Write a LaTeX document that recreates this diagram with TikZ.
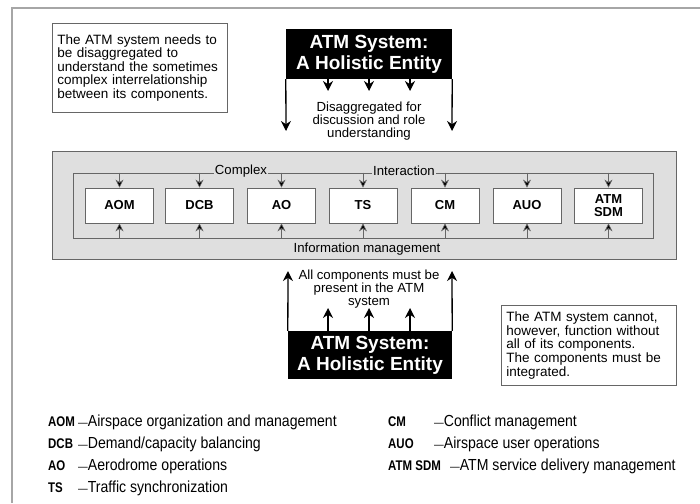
\documentclass[tikz,border=0pt]{standalone}
\usepackage{fontspec}
\setmainfont{Liberation Sans}
\newfontfamily\nfont[FakeStretch=0.88]{Liberation Sans}
\newfontfamily\nbfont[FakeStretch=0.82]{Liberation Sans Bold}
\usetikzlibrary{arrows.meta}
\newcommand{\ldash}{{\fontsize{11}{11}\selectfont—}}
\begin{document}
\begin{tikzpicture}[x=1pt,y=-1pt,
  frameline/.style={draw=black!35, line width=1.5pt},
  note/.style={draw=black!60, line width=0.8pt, fill=white, align=left, anchor=north west,
    inner xsep=5pt, inner ysep=0pt, font=\fontsize{13.5}{13.6}\selectfont},
  holistic/.style={fill=black, text=white, font=\bfseries\fontsize{19}{21}\selectfont,
    align=center, minimum width=166pt, minimum height=50pt, inner sep=0pt},
  bigarrow/.style={line width=1.3pt, -{Stealth[length=10pt,width=10pt]}},
  comp/.style={draw=black!60, line width=0.8pt, fill=white, minimum width=68pt, minimum height=35pt,
    inner sep=0pt, font=\bfseries\fontsize{13}{12.5}\selectfont, align=center},
  smallarrow/.style={line width=0.6pt, draw=black!60, -{Stealth[length=8pt,width=8pt,fill=black]}},
  caption/.style={align=center, inner sep=0pt, font=\fontsize{13.2}{13.3}\selectfont},
  abbr/.style={anchor=west, inner sep=0pt, font=\nbfont\fontsize{14}{16}\selectfont},
  desc/.style={anchor=west, inner sep=0pt, font=\nfont\fontsize{16}{16}\selectfont},
  boxlabel/.style={fill=gray!25, inner xsep=1pt, inner ysep=0pt, font=\fontsize{13.2}{13.3}\selectfont},
]
\useasboundingbox (0,0) rectangle (700,503);
\fill[white] (0,0) rectangle (700,503);
\draw[frameline] (12,503) -- (12,8) -- (700,8);

% top-left note
\node[note, text width=165pt, minimum height=89pt] (note1) at (52,23)
  {The ATM system needs to\\be disaggregated to\\understand the sometimes\\complex interrelationship\\between its components.};

% top holistic entity
\node[holistic] (top) at (369,54) {ATM System:\\A Holistic Entity};
\coordinate (dl) at (286,131);
\coordinate (dr) at (452,131);
\coordinate (d1) at (328,91);
\coordinate (d2) at (369,91);
\coordinate (d3) at (410,91);
\draw[bigarrow] (top.south west) -- (dl);
\draw[bigarrow] (top.south east) -- (dr);
\foreach \c in {d1,d2,d3} \draw[bigarrow] (top.south -| \c) -- (\c);
\node[caption] (disagg) at (369,121) {Disaggregated for\\discussion and role\\understanding};

% gray container
\node[fill=gray!25, draw=black!60, line width=0.8pt, minimum width=624pt, minimum height=108pt, inner sep=0pt] (outer) at (364,205) {};
\node[draw=black!60, line width=0.8pt, minimum width=580pt, minimum height=65pt, inner sep=0pt] (inner) at (363,205.5) {};
\node[boxlabel] (complex) at (241,171) {Complex};
\node[boxlabel] (interaction) at (404,171) {Interaction};
\node[caption] (infomgmt) at (367,249) {Information management};

\foreach \n/\t/\x in {aom/AOM/119.5, dcb/DCB/199.5, ao/AO/281.5, ts/TS/363, cm/CM/445, auo/AUO/527, sdm/{ATM\\SDM}/608.5} {
  \node[comp] (\n) at (\x,205.5) {\t};
  \draw[smallarrow] (\n.north |- inner.north) -- (\n.north);
  \draw[smallarrow] (\n.south |- inner.south) -- (\n.south);
}

% bottom holistic entity
\node[holistic, minimum width=164pt, minimum height=48pt] (bot) at (370,355) {ATM System:\\A Holistic Entity};
\coordinate (ul) at (288,271);
\coordinate (ur) at (452,271);
\coordinate (u1) at (328,308);
\coordinate (u2) at (369,308);
\coordinate (u3) at (410,308);
\draw[bigarrow] (bot.north west) -- (ul);
\draw[bigarrow] (bot.north east) -- (ur);
\foreach \c in {u1,u2,u3} \draw[bigarrow] (bot.north -| \c) -- (\c);
\node[caption] (allcomp) at (369,289) {All components must be\\present in the ATM\\system};

% right note
\node[note, text width=165pt, minimum height=80pt] (note2) at (501,305)
  {The ATM system cannot,\\however, function without\\all of its components.\\The components must be\\integrated.};

% legend
\node[abbr] (l1) at (48,422) {AOM};
\node[abbr] (l2) at (48,444) {DCB};
\node[abbr] (l3) at (48,466) {AO};
\node[abbr] (l4) at (48,488) {TS};
\node[desc] (t1) at (78,422) {\ldash Airspace organization and management};
\node[desc] (t2) at (78,444) {\ldash Demand/capacity balancing};
\node[desc] (t3) at (78,466) {\ldash Aerodrome operations};
\node[desc] (t4) at (78,488) {\ldash Traffic synchronization};
\node[abbr] (r1) at (388,422) {CM};
\node[abbr] (r2) at (388,444) {AUO};
\node[abbr] (r3) at (388,466) {ATM SDM};
\node[desc] (s1) at (434,422) {\ldash Conflict management};
\node[desc] (s2) at (434,444) {\ldash Airspace user operations};
\node[desc] (s3) at (450,466) {\ldash ATM service delivery management};
\end{tikzpicture}
\end{document}
